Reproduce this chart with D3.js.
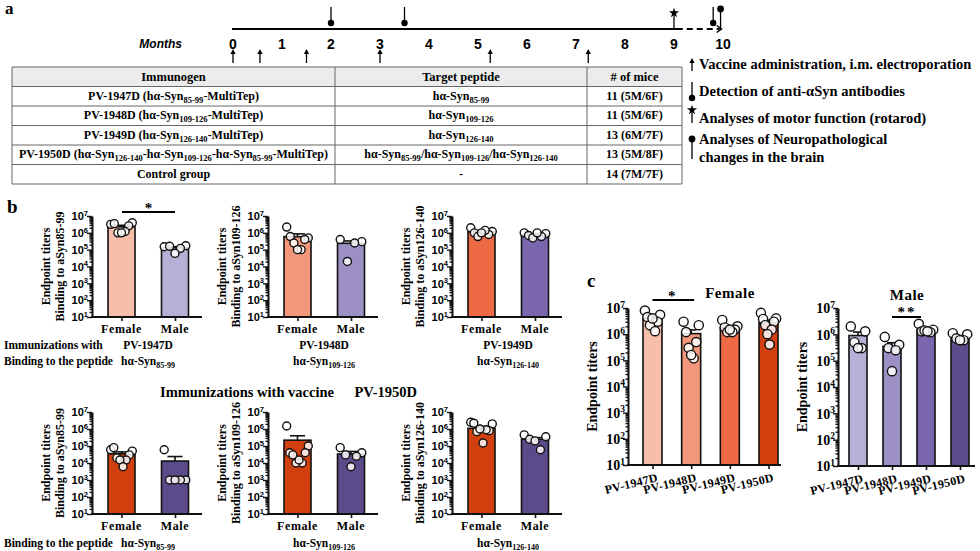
<!DOCTYPE html>
<html><head><meta charset="utf-8">
<script src="https://cdn.jsdelivr.net/npm/d3@7"></script>
<style>body{margin:0;background:#fff}svg{display:block}</style>
</head><body><svg id="c" width="980" height="551"></svg>
<script>
// ---------------- DATA ----------------
const months = [0,1,2,3,4,5,6,7,8,9,10];
const vaccineMonths = [0, 0.55, 1.5, 3, 5.25, 7.25];
const detectionMonths = [2, 3.5, 9.8];
const rotarodMonths = [9];
const neuroMonths = [9.95];

const tableHeader = ["Immunogen","Target peptide","# of mice"];
const immunogens = ["PV-1947D (hα-Syn_{85-99}-MultiTep)","PV-1948D (hα-Syn_{109-126}-MultiTep)","PV-1949D (hα-Syn_{126-140}-MultiTep)","PV-1950D (hα-Syn_{126-140}-hα-Syn_{109-126}-hα-Syn_{85-99}-MultiTep)","Control group"];
const targetPeptides = ["hα-Syn_{85-99}","hα-Syn_{109-126}","hα-Syn_{126-140}","hα-Syn_{85-99}/hα-Syn_{109-126}/hα-Syn_{126-140}","-"];
const miceCounts = ["11 (5M/6F)","11 (5M/6F)","13 (6M/7F)","13 (5M/8F)","14 (7M/7F)"];
const legendTypes = ["vaccine","detection","rotarod","neuro"];
const legendLabels = [["Vaccine administration, i.m. electroporation"],["Detection of anti-αSyn antibodies"],["Analyses of motor function (rotarod)"],["Analyses of Neuropathological","changes in the brain"]];

const yTickExponents = [1,2,3,4,5,6,7];
const sexes = ["Female","Male"];
const bAxisLabels = ["Binding to aSyn85-99","Binding to aSyn109-126","Binding to aSyn126-140"];
const bVaccines = ["PV-1947D","PV-1948D","PV-1949D"];
const bPeptideNames = ["hα-Syn_{85-99}","hα-Syn_{109-126}","hα-Syn_{126-140}"];

const bTopMeans = [[2.3e6,1.3e5],[5.9e5,2.4e5],[1.15e6,7.8e5]];
const bTopSem   = [[5e5,2e4],[2.8e5,9e4],[1.8e5,9e4]];
const bTopPoints = [
  [[3.2e6,4e6,3.5e6,2.6e6,1e6,1.2e6,1e6],[1.5e5,1.7e5,1.6e5,1.2e5,6e4]],
  [[2.2e6,5e5,6e5,4e5,2.5e5,1e5,1e5],[4e5,3e5,2e4,2.5e5]],
  [[2e6,1.2e6,1e6,8e5,6e5,1.4e6,1e6],[1e6,9e5,7e5,6e5,5e5,1e6]]
];
const bBotMeans = [[3.5e4,1.3e4],[2.2e5,3.4e4],[1.1e6,2.5e5]];
const bBotSem   = [[1e4,1.1e4],[1.8e5,1.4e4],[2.8e5,6e4]];
const bBotPoints = [
  [[6e4,5e4,8e4,3e4,2e4,1.5e4,1.5e4,6e3],[6e4,1e3,1e3,1e3,1e3]],
  [[1.5e6,1e5,4e4,4e4,3e4,1e4,1e4,1.5e4],[8e4,4e4,3e4,2.5e4,6e3]],
  [[2.5e6,2e6,2.2e6,8e5,7e5,9e5,1e6,1.5e5],[4.5e5,3.5e5,2.5e5,6e4,2e5]]
];

const cVaccines = ["PV-1947D","PV-1948D","PV-1949D","PV-1950D"];
const cFemaleMeans = [4e6,1.05e6,1.8e6,2.8e6];
const cFemaleSem = [8e5,4e5,2.8e5,6.5e5];
const cFemalePoints = [[8e6,5.5e6,4.5e6,3e6,2.2e6,1.3e6,4e6],[3e6,2.2e6,1.2e6,5e5,3e5,1.2e5,1.6e5],[3.5e6,2e6,1.8e6,1.5e6,1.2e6,1.2e6,1.5e6],[6.5e6,4e6,3.8e6,3e6,2.2e6,1.5e6,1e6,4e5]];
const cMaleMeans = [9e5,3.5e5,1.5e6,8e5];
const cMaleSem = [3.2e5,1.3e5,2e5,1e5];
const cMalePoints = [[2e6,1.3e6,5e5,3e5,3e5],[8e5,4e5,3e5,2.5e5,4e4],[2.5e6,1.5e6,1.3e6,1.2e6,1.4e6,1.3e6],[1.1e6,1e6,7e5,6e5,6e5]];

const femaleColors = ["#f7bfa9","#f2977b","#ee6a45","#d1400e"];
const maleColors = ["#b8afd6","#9b8fc4","#7b67ae","#5c4b8a"];

// ---------------- HELPERS ----------------
const SERIF = "'Liberation Serif','Times New Roman',serif";
const SANS = "'Liberation Sans',Arial,sans-serif";
const svg = d3.select("#c");

function rich(sel, str, subSize) {
  const parts = str.split(/(_\{[^}]*\})/).filter(p => p.length);
  let shifted = false;
  parts.forEach(p => {
    if (p.startsWith("_{")) {
      sel.append("tspan").attr("font-size", subSize).attr("dy", 3).text(p.slice(2,-1));
      shifted = true;
    } else {
      const t = sel.append("tspan").text(p);
      if (shifted) { t.attr("dy", -3); shifted = false; }
    }
  });
  return sel;
}
function sup(sel, base, exp, supSize, dy) {
  sel.append("tspan").text(base);
  sel.append("tspan").attr("font-size", supSize).attr("dy", -dy).text(exp);
}

// ---------------- PANEL a : timeline ----------------
svg.append("text").attr("x",5).attr("y",14).attr("font-family",SERIF).attr("font-weight","bold").attr("font-size",17).text("a");
const tx = d3.scaleLinear().domain([0,10]).range([233,723]);
const lineY = 29;
svg.append("line").attr("x1",tx(0)-1).attr("x2",tx(9.18)).attr("y1",lineY).attr("y2",lineY).attr("stroke","#000").attr("stroke-width",2);
svg.append("line").attr("x1",tx(9.26)).attr("x2",tx(9.93)).attr("y1",lineY).attr("y2",lineY).attr("stroke","#000").attr("stroke-width",2).attr("stroke-dasharray","6,4");
svg.append("path").attr("d",`M${tx(9.87)},${lineY-3.5}L${tx(9.97)},${lineY}L${tx(9.87)},${lineY+3.5}`).attr("fill","none").attr("stroke","#000").attr("stroke-width",1.5);
svg.append("text").attr("x",182).attr("y",48).attr("text-anchor","end").attr("font-family",SANS).attr("font-weight","bold").attr("font-style","italic").attr("font-size",12).text("Months");
svg.selectAll(".month").data(months).enter().append("text")
  .attr("x",d=>tx(d)).attr("y",49).attr("text-anchor","middle").attr("font-family",SANS).attr("font-weight","bold").attr("font-size",14).text(d=>d);

function upArrow(g, x, y1, y2) {
  g.append("line").attr("x1",x).attr("x2",x).attr("y1",y1).attr("y2",y2+4).attr("stroke","#000").attr("stroke-width",1.3);
  g.append("path").attr("d",`M${x-2.6},${y2+5}L${x},${y2}L${x+2.6},${y2+5}Z`).attr("fill","#000");
}
function detMarker(g, x, yTop, yDot) {
  g.append("line").attr("x1",x).attr("x2",x).attr("y1",yTop).attr("y2",yDot).attr("stroke","#000").attr("stroke-width",1.3);
  g.append("circle").attr("cx",x).attr("cy",yDot).attr("r",3.2).attr("fill","#000");
}
function rotMarker(g, x, yStar, yEnd) {
  g.append("line").attr("x1",x).attr("x2",x).attr("y1",yStar).attr("y2",yEnd).attr("stroke","#000").attr("stroke-width",1.3);
  g.append("path").attr("d",d3.symbol(d3.symbolStar,32)()).attr("transform",`translate(${x},${yStar})`).attr("fill","#000");
}
function neuroMarker(g, x, yDot, yEnd) {
  g.append("line").attr("x1",x).attr("x2",x).attr("y1",yDot).attr("y2",yEnd).attr("stroke","#000").attr("stroke-width",1.3);
  g.append("circle").attr("cx",x).attr("cy",yDot).attr("r",3.4).attr("fill","#000");
}
vaccineMonths.forEach(m => upArrow(svg, tx(m), 63, 49));
detectionMonths.forEach(m => detMarker(svg, tx(m), 7, 23));
rotarodMonths.forEach(m => rotMarker(svg, tx(m), 13, 28));
neuroMonths.forEach(m => neuroMarker(svg, tx(m), 9, 30));

// table
const colX = [12, 335, 587, 682];
const tTop = 67, rowH = 19.5;
const nRows = immunogens.length + 1;
svg.append("rect").attr("x",colX[0]).attr("y",tTop).attr("width",colX[3]-colX[0]).attr("height",rowH).attr("fill","#ececec");
for (let r = 0; r <= nRows; r++) svg.append("line").attr("x1",colX[0]).attr("x2",colX[3]).attr("y1",tTop+r*rowH).attr("y2",tTop+r*rowH).attr("stroke","#666").attr("stroke-width",1);
colX.forEach(x => svg.append("line").attr("x1",x).attr("x2",x).attr("y1",tTop).attr("y2",tTop+nRows*rowH).attr("stroke","#666").attr("stroke-width",1));
const tCenters = [0,1,2].map(i => (colX[i]+colX[i+1])/2);
const cols = [immunogens, targetPeptides, miceCounts];
tableHeader.forEach((h,i) => svg.append("text").attr("x",tCenters[i]).attr("y",tTop+rowH/2+4.5).attr("text-anchor","middle").attr("font-family",SERIF).attr("font-weight","bold").attr("font-size",12.5).text(h));
cols.forEach((col,ci) => col.forEach((s,ri) => {
  const t = svg.append("text").attr("x",tCenters[ci]).attr("y",tTop+(ri+1)*rowH+rowH/2+3.5).attr("text-anchor","middle").attr("font-family",SERIF).attr("font-weight","bold").attr("font-size",12);
  rich(t, s, 8.5);
}));

// legend
const legY = [64, 91, 118, 139];
legendTypes.forEach((tp,i) => {
  const y = legY[i], x = 692;
  if (tp==="vaccine") upArrow(svg, x, y+7, y-6);
  if (tp==="detection") detMarker(svg, x, y-9, y+7);
  if (tp==="rotarod") rotMarker(svg, x, y-8, y+5);
  if (tp==="neuro") neuroMarker(svg, x, y, y+20);
  legendLabels[i].forEach((l,j) => svg.append("text").attr("x",699).attr("y",y+5+j*18).attr("font-family",SERIF).attr("font-weight","bold").attr("font-size",14.5).text(l));
});

// ---------------- log bar panels ----------------
const slotPattern = n => { const order=[]; let lo=0, hi=n-1; while(lo<=hi){ order.push(lo++); if(lo<=hi) order.push(hi--);} return order; };
function logPanel(cfg) {
  const g = svg.append("g");
  const y = d3.scaleLog().domain([10,1e7]).range([cfg.yBottom, cfg.yTop]);
  const x = d3.scalePoint().domain(cfg.cats).range([cfg.axisX+cfg.first, cfg.axisX+cfg.last]);
  const bw = cfg.bw;
  cfg.cats.forEach((c,i) => {
    const cx = x(c), m = cfg.means[i];
    g.append("rect").attr("x",cx-bw/2).attr("y",y(m)).attr("width",bw).attr("height",cfg.yBottom-y(m))
      .attr("fill",cfg.colors[i]).attr("stroke","#111").attr("stroke-width",1.6);
    const ye = y(m + cfg.sems[i]);
    g.append("line").attr("x1",cx).attr("x2",cx).attr("y1",y(m)).attr("y2",ye).attr("stroke","#111").attr("stroke-width",1.6);
    g.append("line").attr("x1",cx-bw*0.28).attr("x2",cx+bw*0.28).attr("y1",ye).attr("y2",ye).attr("stroke","#111").attr("stroke-width",1.6);
    const pts = cfg.points[i], n = pts.length, order = slotPattern(n);
    pts.forEach((v,k) => {
      const slot = order[k];
      const off = n>1 ? (-0.4 + 0.8*slot/(n-1))*bw : 0;
      g.append("circle").attr("cx",cx+off).attr("cy",y(v)).attr("r",cfg.r).attr("fill","#fff").attr("fill-opacity",0.85).attr("stroke","#111").attr("stroke-width",1.4);
    });
  });
  const majors = yTickExponents.map(e => Math.pow(10,e));
  const minors = [];
  for (let e=1; e<7; e++) for (let k=2;k<10;k++) minors.push(k*Math.pow(10,e));
  const ya = g.append("g").attr("transform",`translate(${cfg.axisX},0)`).call(d3.axisLeft(y).tickValues(majors).tickSize(5).tickSizeOuter(0).tickFormat(""));
  const ym = g.append("g").attr("transform",`translate(${cfg.axisX},0)`).call(d3.axisLeft(y).tickValues(minors).tickSize(2.5).tickSizeOuter(0).tickFormat(""));
  ym.select(".domain").remove();
  [ya,ym].forEach(a => a.selectAll("line,path").attr("stroke","#111").attr("stroke-width",1.4));
  ya.select(".domain").attr("stroke-width",2);
  yTickExponents.forEach(e => {
    const t = g.append("text").attr("x",cfg.axisX-cfg.labelGap).attr("y",y(Math.pow(10,e))+cfg.tickFont*0.38).attr("text-anchor","end")
      .attr("font-family",cfg.tickFamily).attr("font-weight","bold").attr("font-size",cfg.tickFont);
    sup(t, "10", e, cfg.tickFont*0.68, cfg.tickFont*0.4);
  });
  g.append("line").attr("x1",cfg.axisX-1).attr("x2",cfg.xEnd).attr("y1",cfg.yBottom).attr("y2",cfg.yBottom).attr("stroke","#111").attr("stroke-width",2);
  const xa = g.append("g").attr("transform",`translate(0,${cfg.yBottom})`).call(d3.axisBottom(x).tickSize(4).tickSizeOuter(0).tickFormat(""));
  xa.select(".domain").remove();
  xa.selectAll("line").attr("stroke","#111").attr("stroke-width",1.6);
  return {g, x, y};
}

// ---------------- PANEL b ----------------
svg.append("text").attr("x",7).attr("y",213).attr("font-family",SERIF).attr("font-weight","bold").attr("font-size",19).text("b");
const bAxisX = [92, 268, 452];
function bRow(rowIdx, yTop, yBottom, means, sems, points) {
  bAxisX.forEach((ax,i) => {
    const colors = rowIdx===0 ? [femaleColors[i], maleColors[i]] : [femaleColors[3], maleColors[3]];
    const p = logPanel({axisX:ax, yTop, yBottom, cats:sexes, first:29.5, last:83, bw:27, xEnd:ax+110,
      means:means[i], sems:sems[i], points:points[i], colors, r:4, tickFont:11, tickFamily:SANS, labelGap:4});
    const cy = (yTop+yBottom)/2;
    [["Endpoint titers",46],[bAxisLabels[i],32]].forEach(([txt,dx]) => {
      svg.append("text").attr("transform",`translate(${ax-dx},${cy}) rotate(-90)`).attr("dy","0.35em").attr("text-anchor","middle")
        .attr("font-family",SERIF).attr("font-weight","bold").attr("font-size",12).text(txt);
    });
    sexes.forEach(s => svg.append("text").attr("x",p.x(s)).attr("y",yBottom+16).attr("text-anchor","middle")
      .attr("font-family",SERIF).attr("font-weight","bold").attr("font-size",12).attr("letter-spacing",0.6).text(s));
  });
}
bRow(0, 216, 317, bTopMeans, bTopSem, bTopPoints);
bRow(1, 412, 514, bBotMeans, bBotSem, bBotPoints);

svg.append("line").attr("x1",122).attr("x2",175).attr("y1",212).attr("y2",212).attr("stroke","#000").attr("stroke-width",2);
svg.append("text").attr("x",148.5).attr("y",213).attr("text-anchor","middle").attr("font-family",SERIF).attr("font-weight","bold").attr("font-size",15).text("*");

function cap(x, y, s, anchor) {
  const t = svg.append("text").attr("x",x).attr("y",y).attr("text-anchor",anchor||"middle").attr("font-family",SERIF).attr("font-weight","bold").attr("font-size",11.5);
  rich(t, s, 8);
}
cap(4, 349, "Immunizations with", "start");
cap(4, 365, "Binding to the peptide", "start");
cap(4, 547, "Binding to the peptide", "start");
bAxisX.forEach((ax,i) => {
  const cx = ax + 56;
  cap(cx, 349, bVaccines[i]);
  cap(cx, 365, bPeptideNames[i]);
  cap(cx, 547, bPeptideNames[i]);
});
svg.append("text").attr("x",160).attr("y",397).attr("font-family",SERIF).attr("font-weight","bold").attr("font-size",14.5).text("Immunizations with vaccine");
svg.append("text").attr("x",417).attr("y",397).attr("text-anchor","end").attr("font-family",SERIF).attr("font-weight","bold").attr("font-size",14.5).text("PV-1950D");

// ---------------- PANEL c ----------------
svg.append("text").attr("x",587).attr("y",287).attr("font-family",SERIF).attr("font-weight","bold").attr("font-size",19).text("c");
function cPanel(cfg, title, titleX, titleY) {
  const p = logPanel(cfg);
  svg.append("text").attr("transform",`translate(${cfg.axisX-36},${(cfg.yTop+cfg.yBottom)/2}) rotate(-90)`).attr("dy","0.35em").attr("text-anchor","middle")
    .attr("font-family",SERIF).attr("font-weight","bold").attr("font-size",14).text("Endpoint titers");
  cfg.cats.forEach(c => svg.append("text").attr("transform",`translate(${p.x(c)+6},${cfg.yBottom+16}) rotate(-14)`).attr("text-anchor","end")
    .attr("font-family",SERIF).attr("font-weight","bold").attr("font-size",12).attr("letter-spacing",0.3).text(c));
  svg.append("text").attr("x",titleX).attr("y",titleY).attr("text-anchor","middle").attr("font-family",SERIF).attr("font-weight","bold").attr("font-size",15).attr("letter-spacing",0.5).text(title);
  return p;
}
const cf = cPanel({axisX:628, yTop:308, yBottom:465, cats:cVaccines, first:24.5, last:140.5, bw:19, xEnd:781,
  means:cFemaleMeans, sems:cFemaleSem, points:cFemalePoints, colors:femaleColors, r:4.6, tickFont:14, tickFamily:SERIF, labelGap:3}, "Female", 730, 298);
const cm = cPanel({axisX:838, yTop:308, yBottom:466, cats:cVaccines, first:20, last:122, bw:18, xEnd:975,
  means:cMaleMeans, sems:cMaleSem, points:cMalePoints, colors:maleColors, r:4.6, tickFont:14, tickFamily:SERIF, labelGap:3}, "Male", 907, 300);
svg.append("line").attr("x1",cf.x("PV-1947D")).attr("x2",cf.x("PV-1948D")+3).attr("y1",300).attr("y2",300).attr("stroke","#000").attr("stroke-width",2);
svg.append("text").attr("x",(cf.x("PV-1947D")+cf.x("PV-1948D"))/2).attr("y",301).attr("text-anchor","middle").attr("font-family",SERIF).attr("font-weight","bold").attr("font-size",15).text("*");
svg.append("line").attr("x1",cm.x("PV-1948D")).attr("x2",cm.x("PV-1949D")-5).attr("y1",317).attr("y2",317).attr("stroke","#000").attr("stroke-width",2);
svg.append("text").attr("x",(cm.x("PV-1948D")+cm.x("PV-1949D"))/2-2).attr("y",317).attr("text-anchor","middle").attr("font-family",SERIF).attr("font-weight","bold").attr("font-size",15).attr("letter-spacing",2).text("**");
</script></body></html>
